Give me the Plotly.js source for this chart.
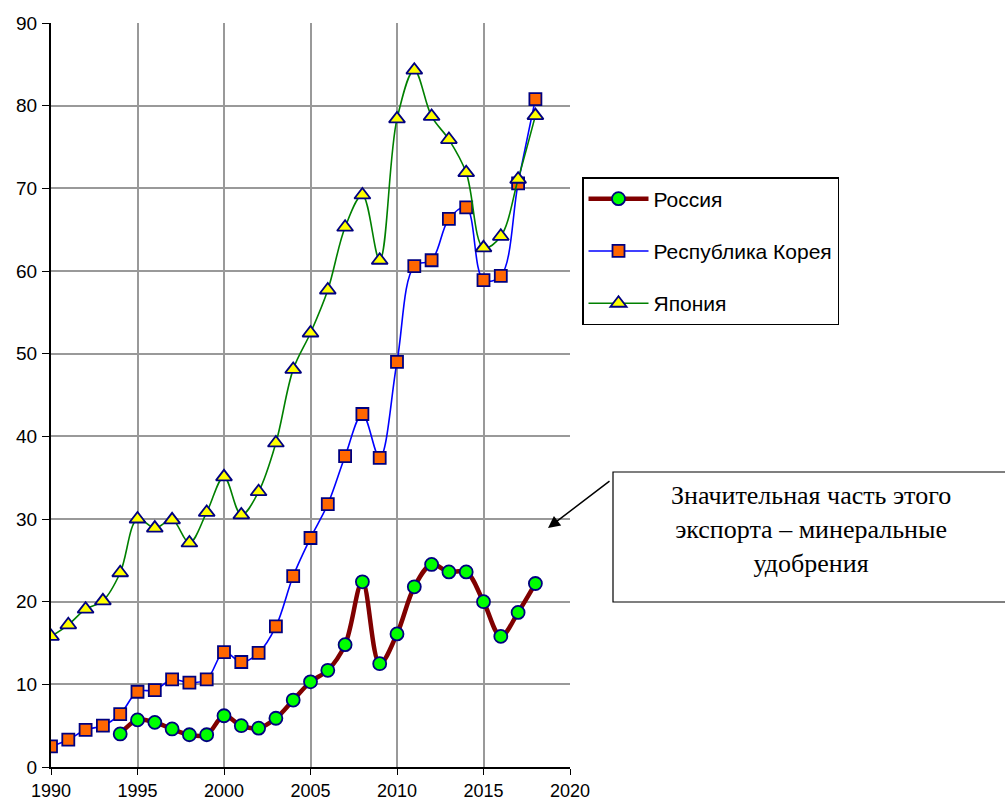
<!DOCTYPE html>
<html>
<head>
<meta charset="utf-8">
<script src="https://cdn.plot.ly/plotly-3.0.1.min.js"></script>
<style>html,body{margin:0;padding:0;background:#fff;}#chart{width:1005px;height:802px;}</style>
</head>
<body>
<div id="chart"></div>
<script>
const yearsFull = [1990,1991,1992,1993,1994,1995,1996,1997,1998,1999,2000,2001,2002,2003,2004,2005,2006,2007,2008,2009,2010,2011,2012,2013,2014,2015,2016,2017,2018];
const yearsRussia = [1994,1995,1996,1997,1998,1999,2000,2001,2002,2003,2004,2005,2006,2007,2008,2009,2010,2011,2012,2013,2014,2015,2016,2017,2018];
const russia = [4.0,5.7,5.4,4.6,3.9,3.9,6.2,5.0,4.7,5.9,8.1,10.3,11.7,14.8,22.4,12.5,16.1,21.8,24.5,23.6,23.6,20.0,15.8,18.7,22.2];
const korea = [2.5,3.3,4.5,5.0,6.4,9.1,9.3,10.6,10.2,10.6,13.9,12.7,13.8,17.0,23.1,27.7,31.8,37.6,42.7,37.4,49.0,60.6,61.3,66.3,67.7,58.9,59.4,70.6,80.8];
const japan = [15.8,17.2,19.1,20.1,23.5,30.0,28.9,29.9,27.1,30.8,35.1,30.5,33.3,39.2,48.1,52.5,57.7,65.3,69.2,61.3,78.4,84.3,78.7,75.9,71.9,62.8,64.2,71.1,78.8];
const seriesNames = ["Россия","Республика Корея","Япония"];
const noteText = "Значительная часть этого<br>экспорта – минеральные<br>удобрения";

const font = "Liberation Sans, Arial, sans-serif";
const traces = [
  {x: yearsRussia, y: russia, name: seriesNames[0], mode: "lines+markers", legendgroup: "a",
   line: {color: "#800000", width: 4.5, shape: "spline", smoothing: 1},
   marker: {symbol: "circle", size: 13, color: "#00ff00", line: {color: "#000080", width: 1.8}}},
  {x: yearsFull, y: korea, name: seriesNames[1], mode: "lines+markers", legendgroup: "b",
   line: {color: "#0000ff", width: 1.6, shape: "spline", smoothing: 1},
   marker: {symbol: "square", size: 12, color: "#ff6600", line: {color: "#000080", width: 1.8}}},
  {x: yearsFull, y: japan, name: seriesNames[2], mode: "lines+markers", legendgroup: "c",
   line: {color: "#008000", width: 1.6, shape: "spline", smoothing: 1},
   marker: {symbol: "triangle-up", size: 14, color: "#ffff00", line: {color: "#000080", width: 1.8}}}
];
const px = v => (v - 51) / 519;
const py = v => (767 - v) / 744;
const layout = {
  width: 1005, height: 802,
  margin: {l: 51, r: 435, t: 23, b: 35},
  paper_bgcolor: "#ffffff", plot_bgcolor: "#ffffff",
  font: {family: font, size: 16, color: "#000"},
  showlegend: true,
  xaxis: {range: [1990, 2020], dtick: 5, tick0: 1990, showgrid: true, gridcolor: "#999999", gridwidth: 2,
          showline: true, linecolor: "#000", linewidth: 2, ticks: "outside", ticklen: 6, tickcolor: "#000",
          zeroline: false, tickfont: {size: 18, family: font}, ticklabelstandoff: 0, automargin: false},
  yaxis: {range: [0, 90], dtick: 10, showgrid: true, gridcolor: "#999999", gridwidth: 2,
          showline: true, linecolor: "#000", linewidth: 2, ticks: "outside", ticklen: 7, tickcolor: "#000",
          zeroline: false, tickfont: {size: 19, family: font}, ticklabelstandoff: 1, automargin: false},
  legend: {x: px(582), y: py(177), xanchor: "left", yanchor: "top", bgcolor: "#fff",
           bordercolor: "#000", borderwidth: 1.5, font: {size: 21, family: font},
           tracegroupgap: 22, itemwidth: 60},
  shapes: [{type: "rect", xref: "paper", yref: "paper", x0: px(613), x1: px(1010), y0: py(602), y1: py(472),
            line: {color: "#000", width: 1.2}, fillcolor: "#fff", layer: "above"}],
  annotations: [
    {xref: "paper", yref: "paper", x: px(811), y: py(529), xanchor: "center", yanchor: "middle",
     text: noteText, showarrow: false, align: "center",
     font: {family: "Liberation Serif, Times New Roman, serif", size: 26, color: "#000"}},
    {xref: "paper", yref: "paper", x: px(548), y: py(528), text: "", showarrow: true,
     ax: 63, ay: -48, arrowhead: 2, arrowsize: 1.6, arrowwidth: 1.5, arrowcolor: "#000", standoff: 0}
  ]
};
Plotly.newPlot("chart", traces, layout, {staticPlot: true});
</script>
</body>
</html>
